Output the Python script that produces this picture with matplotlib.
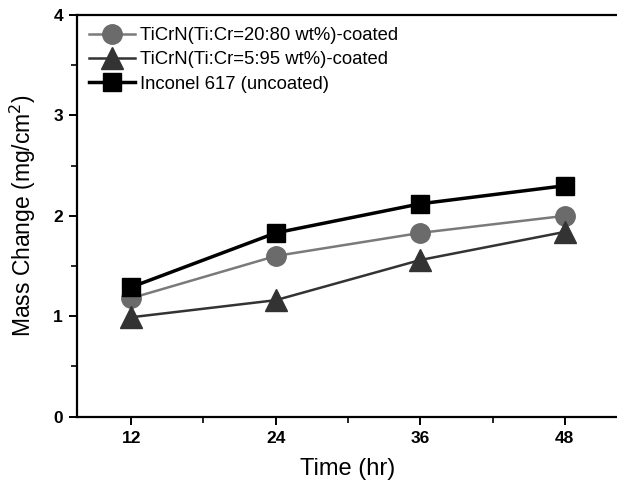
import matplotlib
matplotlib.use("Agg")
import matplotlib.pyplot as plt
from matplotlib.ticker import MultipleLocator

plt.rcParams["font.family"] = ["Liberation Sans", "DejaVu Sans"]

# ---- data ----
time_hr = [12, 24, 36, 48]
ticrn_20_80 = [1.18, 1.60, 1.83, 2.00]
ticrn_5_95 = [0.99, 1.16, 1.56, 1.84]
inconel_617 = [1.29, 1.83, 2.12, 2.30]

labels = [
    "TiCrN(Ti:Cr=20:80 wt%)-coated",
    "TiCrN(Ti:Cr=5:95 wt%)-coated",
    "Inconel 617 (uncoated)",
]

fig = plt.figure(figsize=(6.17, 4.93), dpi=100)
ax = fig.add_axes([0.1248, 0.1548, 0.8784, 0.8148])

ax.plot(time_hr, ticrn_20_80, color="#7a7a7a", lw=1.8, marker="o", ms=14,
        mfc="#6b6b6b", mec="#6b6b6b", label=labels[0])
ax.plot(time_hr, ticrn_5_95, color="#333333", lw=1.8, marker="^", ms=16,
        mfc="#333333", mec="#333333", label=labels[1])
ax.plot(time_hr, inconel_617, color="black", lw=2.5, marker="s", ms=13,
        mfc="black", mec="black", label=labels[2])

ax.set_xlim(7.5, 52.5)
ax.set_ylim(0, 4)
ax.xaxis.set_major_locator(MultipleLocator(12))
ax.xaxis.set_minor_locator(MultipleLocator(6))
ax.yaxis.set_major_locator(MultipleLocator(1))
ax.yaxis.set_minor_locator(MultipleLocator(0.5))

ax.spines["right"].set_visible(False)
for s in ["left", "bottom", "top"]:
    ax.spines[s].set_linewidth(1.6)

ax.tick_params(which="major", direction="out", length=6, width=1.4,
               labelsize=12.5, pad=4)
ax.tick_params(which="minor", direction="out", length=4, width=1.2)
ax.tick_params(top=False, right=False)
for lab in ax.get_xticklabels() + ax.get_yticklabels():
    lab.set_fontweight("bold")

ax.set_xlabel("Time (hr)", fontsize=17, labelpad=9)
ax.set_ylabel("Mass Change (mg/cm$^2$)", fontsize=16.5, labelpad=11)

ax.legend(loc="upper left", frameon=False, fontsize=13.3, handlelength=2.5,
          handletextpad=0.25, labelspacing=0.4, borderaxespad=0.45,
          borderpad=0.2)

fig.savefig("out.png", dpi=100)
